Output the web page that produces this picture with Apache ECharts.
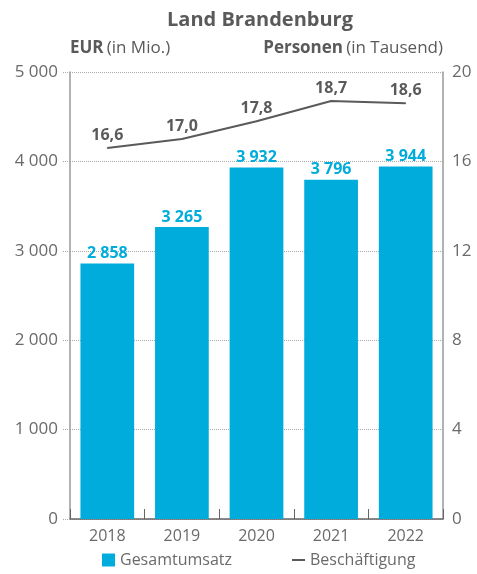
<!DOCTYPE html>
<html>
<head>
<meta charset="utf-8">
<script src="https://cdn.jsdelivr.net/npm/echarts@6/dist/echarts.min.js"></script>
<style>
  html, body { margin: 0; padding: 0; background: #fff; }
  #chart { width: 477px; height: 574px; }
</style>
</head>
<body>
<div id="chart"></div>
<script>
// Jahre und Werte
const years = ['2018', '2019', '2020', '2021', '2022'];
const umsatz = [2858, 3265, 3932, 3796, 3944];          // Gesamtumsatz, EUR in Mio.
const beschaeftigung = [16.6, 17.0, 17.8, 18.7, 18.6];  // Beschäftigung, Personen in Tausend
const eurTicks = [0, 1000, 2000, 3000, 4000, 5000];
const personenTicks = [0, 4, 8, 12, 16, 20];

const FONT = 'Open Sans';
const GREY = '#5a5a5a';
const LABEL_GREY = '#6a6a6a';
const BLUE = '#00acdc';

const fmtThousands = v => String(v).replace(/\B(?=(\d{3})+(?!\d))/g, ' ');
const fmtDecimal = v => v.toFixed(1).replace('.', ',');

const chart = echarts.init(document.getElementById('chart'), null, { renderer: 'canvas' });

chart.setOption({
  animation: false,
  textStyle: { fontFamily: FONT },
  title: {
    text: 'Land Brandenburg',
    left: 255, textAlign: 'center', top: 5,
    textStyle: { fontFamily: FONT, fontSize: 20, fontWeight: 'bold', color: GREY }
  },
  grid: { left: 70, right: 34, top: 72, bottom: 55 },
  legend: {
    bottom: 1, left: 97,
    itemGap: 60, itemWidth: 13, itemHeight: 13,
    textStyle: { fontFamily: FONT, fontSize: 16, color: LABEL_GREY },
    data: [
      { name: 'Gesamtumsatz', icon: 'rect' },
      { name: 'Beschäftigung', icon: 'path://M0,0H13V2H0Z', itemStyle: { color: GREY } }
    ]
  },
  xAxis: {
    type: 'category',
    data: years,
    axisLine: { lineStyle: { color: '#666', width: 1.5 } },
    axisTick: { show: true, inside: true, length: 10, alignWithLabel: false, lineStyle: { color: '#666' } },
    axisLabel: { fontFamily: FONT, fontSize: 16, color: LABEL_GREY, margin: 9 }
  },
  yAxis: [
    {
      type: 'value', min: eurTicks[0], max: eurTicks[eurTicks.length - 1], interval: 1000,
      name: '{b|EUR} {n|(in Mio.)}',
      nameLocation: 'end', nameGap: 15,
      nameTextStyle: {
        align: 'left',
        rich: {
          b: { fontFamily: FONT, fontSize: 17, fontWeight: 'bold', color: GREY },
          n: { fontFamily: FONT, fontSize: 17, color: GREY }
        }
      },
      axisLine: { show: true, lineStyle: { color: '#999', width: 1.5 } },
      axisTick: { show: true, length: 8, lineStyle: { color: '#aaa', type: 'dotted' } },
      splitLine: { show: true, lineStyle: { color: '#aaa', type: 'dotted' } },
      axisLabel: {
        fontFamily: FONT, fontSize: 17, color: LABEL_GREY, margin: 12,
        formatter: v => eurTicks.includes(v) ? fmtThousands(v) : ''
      }
    },
    {
      type: 'value', min: personenTicks[0], max: personenTicks[personenTicks.length - 1], interval: 4,
      name: '{b|Personen} {n|(in Tausend)}',
      nameLocation: 'end', nameGap: 15,
      nameTextStyle: {
        align: 'right',
        rich: {
          b: { fontFamily: FONT, fontSize: 17, fontWeight: 'bold', color: GREY },
          n: { fontFamily: FONT, fontSize: 17, color: GREY }
        }
      },
      axisLine: { show: true, lineStyle: { color: '#999', width: 1.5 } },
      axisTick: { show: false },
      splitLine: { show: false },
      axisLabel: {
        fontFamily: FONT, fontSize: 17, color: LABEL_GREY, margin: 9,
        formatter: v => personenTicks.includes(v) ? String(v) : ''
      }
    }
  ],
  series: [
    {
      name: 'Gesamtumsatz',
      type: 'bar',
      yAxisIndex: 0,
      data: umsatz,
      barWidth: '72%',
      itemStyle: { color: BLUE },
      label: {
        show: true, position: 'top', distance: 2,
        fontFamily: FONT, fontSize: 16, fontWeight: 'bold', color: BLUE,
        formatter: p => fmtThousands(p.value)
      }
    },
    {
      name: 'Beschäftigung',
      type: 'line',
      yAxisIndex: 1,
      data: beschaeftigung,
      symbol: 'circle', symbolSize: 1, showSymbol: true,
      lineStyle: { color: GREY, width: 2 },
      itemStyle: { color: GREY },
      label: {
        show: true, position: 'top', distance: 4,
        fontFamily: FONT, fontSize: 16, fontWeight: 'bold', color: GREY,
        formatter: p => fmtDecimal(p.value)
      }
    }
  ]
});
</script>
</body>
</html>
